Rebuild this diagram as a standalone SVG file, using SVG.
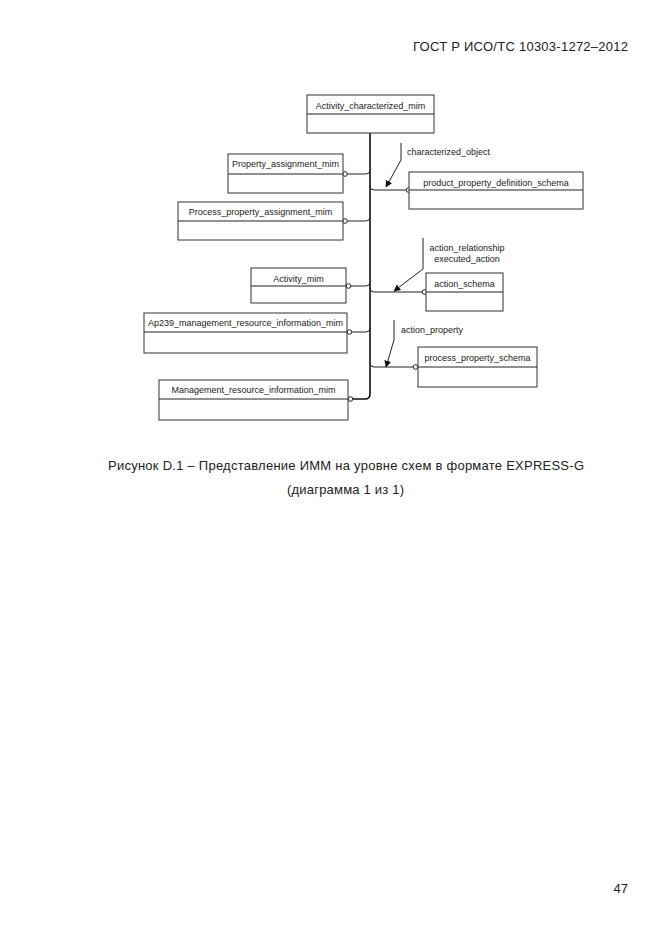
<svg xmlns="http://www.w3.org/2000/svg" width="661" height="935" viewBox="0 0 661 935">
<style>
.box{fill:#fff;stroke:#333;stroke-width:1}
.t{font-family:"Liberation Sans",Arial,sans-serif;font-size:9px;fill:#222}
.c{text-anchor:middle}
.ln{fill:none;stroke:#222;stroke-width:1}
.trunk{fill:none;stroke:#111;stroke-width:1.6}
.circ{fill:#fff;stroke:#222;stroke-width:1}
.cap{font-family:"Liberation Sans",Arial,sans-serif;font-size:13px;fill:#222}
</style>
<defs>
<marker id="ah" viewBox="0 0 10 10" refX="9" refY="5" markerWidth="7" markerHeight="7" orient="auto" markerUnits="userSpaceOnUse">
<path d="M0,0 L10,5 L0,10 z" fill="#111"/>
</marker>
</defs>
<rect width="661" height="935" fill="#fff"/>
<text class="cap" x="628" y="51" text-anchor="end" textLength="215" lengthAdjust="spacing">ГОСТ Р ИСО/ТС 10303-1272–2012</text>

<g id="connectors">
<path class="trunk" d="M370,133 V394 Q370,399 365,399 H353"/>
<path class="ln" d="M347,174 H366 Q370,174 370,170"/>
<path class="ln" d="M347,221 H366 Q370,221 370,217"/>
<path class="ln" d="M351,286 H366 Q370,286 370,282"/>
<path class="ln" d="M352,332 H366 Q370,332 370,328"/>
<path class="ln" d="M370,186 Q370,190 374,190 H406"/>
<path class="ln" d="M370,288 Q370,292 374,292 H422"/>
<path class="ln" d="M370,363 Q370,367 374,367 H413"/>
<path class="ln" d="M401,143 V160 L386,187" marker-end="url(#ah)"/>
<path class="ln" d="M423,238 V269 L394,291" marker-end="url(#ah)"/>
<path class="ln" d="M394,320 V340 L386,367" marker-end="url(#ah)"/>
<circle class="circ" cx="345" cy="174" r="2.3"/>
<circle class="circ" cx="345" cy="221" r="2.3"/>
<circle class="circ" cx="348.5" cy="286" r="2.3"/>
<circle class="circ" cx="349.5" cy="332" r="2.3"/>
<circle class="circ" cx="350.5" cy="399" r="2.3"/>
<circle class="circ" cx="408.5" cy="190" r="2.3"/>
<circle class="circ" cx="424.5" cy="292" r="2.3"/>
<circle class="circ" cx="415.5" cy="367" r="2.3"/>
<text class="t" x="407" y="155">characterized_object</text>
<text class="t c" x="467" y="251">action_relationship</text>
<text class="t c" x="467" y="262">executed_action</text>
<text class="t" x="401" y="333">action_property</text>
</g>

<g id="activity_characterized_mim">
<rect class="box" x="307" y="95" width="127" height="38"/>
<line class="ln" x1="307" y1="114" x2="434" y2="114"/>
<text class="t c" x="370.5" y="109">Activity_characterized_mim</text>
</g>
<g id="property_assignment_mim">
<rect class="box" x="228" y="154" width="115" height="39"/>
<line class="ln" x1="228" y1="174" x2="343" y2="174"/>
<text class="t c" x="285.5" y="167">Property_assignment_mim</text>
</g>
<g id="process_property_assignment_mim">
<rect class="box" x="178" y="202" width="165" height="38"/>
<line class="ln" x1="178" y1="221" x2="343" y2="221"/>
<text class="t c" x="260.5" y="215">Process_property_assignment_mim</text>
</g>
<g id="activity_mim">
<rect class="box" x="251" y="268" width="95" height="35"/>
<line class="ln" x1="251" y1="286" x2="346" y2="286"/>
<text class="t c" x="298.5" y="282">Activity_mim</text>
</g>
<g id="ap239_management_resource_information_mim">
<rect class="box" x="144" y="313" width="203" height="40"/>
<line class="ln" x1="144" y1="332" x2="347" y2="332"/>
<text class="t c" x="245.5" y="326">Ap239_management_resource_information_mim</text>
</g>
<g id="management_resource_information_mim">
<rect class="box" x="159" y="380" width="189" height="40"/>
<line class="ln" x1="159" y1="399" x2="348" y2="399"/>
<text class="t c" x="253.5" y="393">Management_resource_information_mim</text>
</g>
<g id="product_property_definition_schema">
<rect class="box" x="409" y="172" width="174" height="37"/>
<line class="ln" x1="409" y1="190" x2="583" y2="190"/>
<text class="t c" x="496" y="186">product_property_definition_schema</text>
</g>
<g id="action_schema">
<rect class="box" x="426" y="273" width="77" height="38"/>
<line class="ln" x1="426" y1="292" x2="503" y2="292"/>
<text class="t c" x="464.5" y="287">action_schema</text>
</g>
<g id="process_property_schema">
<rect class="box" x="418" y="347" width="119" height="40"/>
<line class="ln" x1="418" y1="367" x2="537" y2="367"/>
<text class="t c" x="477.5" y="361">process_property_schema</text>
</g>

<text class="cap" x="108" y="470" textLength="476" lengthAdjust="spacing">Рисунок  D.1 – Представление ИММ на уровне схем в формате EXPRESS-G</text>
<text class="cap" x="287" y="494" textLength="117" lengthAdjust="spacing">(диаграмма 1 из 1)</text>
<text class="cap" x="628" y="893" text-anchor="end">47</text>
</svg>
